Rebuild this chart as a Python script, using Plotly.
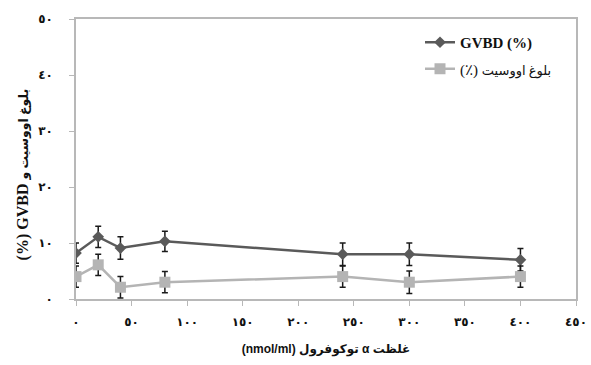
import plotly.graph_objects as go

# Data
concentration = [0, 20, 40, 80, 240, 300, 400]
gvbd = [8.2, 11.1, 9.1, 10.3, 8.0, 8.0, 7.0]
gvbd_err = [1.8, 1.9, 2.0, 1.8, 2.0, 2.0, 2.0]
maturation = [4.0, 6.1, 2.1, 3.0, 4.0, 3.0, 4.0]
maturation_err = [1.9, 1.9, 1.9, 1.9, 1.9, 2.0, 1.9]

x_tickvals = [0, 50, 100, 150, 200, 250, 300, 350, 400, 450]
x_ticktext = ["٠", "٥٠", "١٠٠", "١٥٠", "٢٠٠", "٢٥٠", "٣٠٠", "٣٥٠", "٤٠٠", "٤٥٠"]
y_tickvals = [0, 10, 20, 30, 40, 50]
y_ticktext = ["٠", "١٠", "٢٠", "٣٠", "٤٠", "٥٠"]

name_gvbd = "<b>GVBD (%)</b>"
name_mat = "(٪) " + "<span style='font-size:13px'>بلوغ اووسیت</span>"
x_title = "(nmol/ml) " + "توکوفرول" + " <b>α</b> " + "غلظت"
y_title = "<b>(%) GVBD </b>" + "<span style='font-size:12.5px'><b>بلوغ اووسیت و</b></span>"

fig = go.Figure()
fig.add_trace(go.Scatter(
    x=concentration, y=gvbd, name=name_gvbd, mode="lines+markers",
    legendgroup="a",
    line=dict(color="#5a5a5a", width=2.5),
    marker=dict(symbol="diamond", size=9, color="#5a5a5a"),
    error_y=dict(type="data", array=gvbd_err, color="#1a1a1a", thickness=1.5, width=3),
))
fig.add_trace(go.Scatter(
    x=concentration, y=maturation, name=name_mat, mode="lines+markers",
    legendgroup="b",
    line=dict(color="#b4b4b4", width=2.5),
    marker=dict(symbol="square", size=11, color="#b4b4b4"),
    error_y=dict(type="data", array=maturation_err, color="#1a1a1a", thickness=1.5, width=3),
))

fig.update_layout(
    width=591, height=365,
    margin=dict(l=76, r=15, t=19, b=66, autoexpand=False),
    paper_bgcolor="white", plot_bgcolor="white",
    showlegend=True,
    legend=dict(
        x=0.688, y=0.975, xanchor="left", yanchor="top",
        bgcolor="rgba(0,0,0,0)",
        font=dict(family="Liberation Serif, DejaVu Sans", size=15, color="#111"),
        tracegroupgap=4, itemwidth=30,
    ),
    xaxis=dict(
        range=[0, 450], tickvals=x_tickvals, ticktext=x_ticktext,
        showgrid=False, zeroline=False, automargin=False,
        showline=True, linecolor="#b8b8b8", linewidth=1.5, mirror=True,
        ticks="outside", ticklen=5, tickcolor="#b8b8b8", ticklabelstandoff=6,
        tickfont=dict(family="DejaVu Sans", size=12, color="#111", weight="bold"),
        title=dict(text=x_title, standoff=16,
                   font=dict(family="Liberation Sans, DejaVu Sans", size=12, color="#111", weight="bold")),
    ),
    yaxis=dict(
        range=[0, 50], tickvals=y_tickvals, ticktext=y_ticktext,
        showgrid=False, zeroline=False, automargin=False,
        showline=True, linecolor="#b8b8b8", linewidth=1.5, mirror=True,
        ticks="outside", ticklen=5, tickcolor="#b8b8b8", ticklabelstandoff=14,
        tickfont=dict(family="DejaVu Sans", size=12, color="#111", weight="bold"),
    ),
    annotations=[dict(
        text=y_title, textangle=-90, showarrow=False,
        xref="paper", yref="paper", x=-0.106, y=0.445,
        xanchor="center", yanchor="middle",
        font=dict(family="Liberation Serif, DejaVu Sans", size=16, color="#111"),
    )],
)

fig.write_html("out.html")
